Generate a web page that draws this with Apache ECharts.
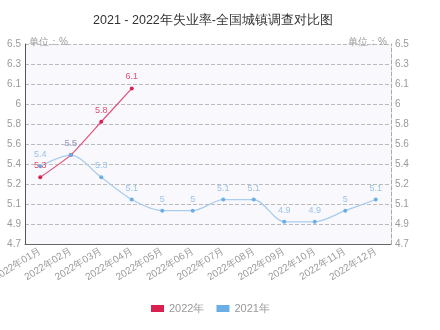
<!DOCTYPE html>
<html><head><meta charset="utf-8">
<script src="https://cdn.jsdelivr.net/npm/echarts@6/dist/echarts.min.js"></script>
<style>html,body{margin:0;padding:0;background:#fff}#c{width:440px;height:330px}</style>
</head><body><div id="c"></div>
<script>
var titleText = '2021 - 2022年失业率-全国城镇调查对比图';
var months = ['2022年01月','2022年02月','2022年03月','2022年04月','2022年05月','2022年06月','2022年07月','2022年08月','2022年09月','2022年10月','2022年11月','2022年12月'];
var series2022 = [5.3, 5.5, 5.8, 6.1];
var series2021 = [5.4, 5.5, 5.3, 5.1, 5.0, 5.0, 5.1, 5.1, 4.9, 4.9, 5.0, 5.1];
var yMin = 4.7, yMax = 6.5, yStep = 0.18;
var unitName = '单位：%';

function fmt(v){ return String(parseFloat((+v).toFixed(1))); }
var chart = echarts.init(document.getElementById('c'));
var yCommon = {
  type:'value', min:yMin, max:yMax, interval:yStep,
  name: unitName, nameLocation:'end', nameGap: 2,
  axisLabel:{color:'#9a9a9a', fontSize:10, formatter:fmt, margin:4},
  axisTick:{show:false}
};
chart.setOption({
  animation:false,
  title:{text:titleText, left:208, textAlign:'center', top:9, textStyle:{fontSize:12.5, fontWeight:'normal', color:'#333'}},
  grid:{left:25, right:49, top:44, bottom:86, show:true, backgroundColor:'#f8f8fd', borderWidth:0, outerBoundsMode:'none', containLabel:false},
  legend:{bottom:11, left:146, icon:'rect', itemWidth:13, itemHeight:7, itemGap:12,
    textStyle:{color:'#999', fontSize:11}, data:['2022年','2021年']},
  xAxis:{type:'category', data:months, boundaryGap:true,
    axisLine:{lineStyle:{color:'#666', width:1}},
    axisTick:{alignWithLabel:true, length:3, lineStyle:{color:'#888'}},
    axisLabel:{rotate:32, color:'#9a9a9a', fontSize:10, interval:0, margin:6}},
  yAxis:[
    Object.assign({}, yCommon, {position:'left',
      nameTextStyle:{color:'#9a9a9a', fontSize:10, align:'left', verticalAlign:'middle', padding:[0,0,4,4]},
      axisLine:{show:true, lineStyle:{color:'#555', width:1}},
      splitLine:{show:true, lineStyle:{color:'#bbb', type:'dashed'}}}),
    Object.assign({}, yCommon, {position:'right',
      nameTextStyle:{color:'#9a9a9a', fontSize:10, align:'right', verticalAlign:'middle', padding:[0,4,4,0]},
      axisLine:{show:true, lineStyle:{color:'#aaa', width:1, type:'dashed'}},
      splitLine:{show:false}})
  ],
  series:[
    {name:'2022年', type:'line', data:series2022, smooth:0.15, yAxisIndex:0,
      symbol:'circle', symbolSize:4, itemStyle:{color:'#d9204e'},
      lineStyle:{color:'#e0567a', width:1.2},
      label:{show:true, position:'top', fontSize:9, color:'#e05070', formatter:function(p){return fmt(p.value);}}},
    {name:'2021年', type:'line', data:series2021, smooth:0.3, yAxisIndex:0,
      symbol:'circle', symbolSize:4, itemStyle:{color:'#6aaee6'},
      lineStyle:{color:'#a9cdea', width:1.2},
      label:{show:true, position:'top', fontSize:9, color:'#9cc4e4', formatter:function(p){return fmt(p.value);}}}
  ]
});
</script></body></html>
